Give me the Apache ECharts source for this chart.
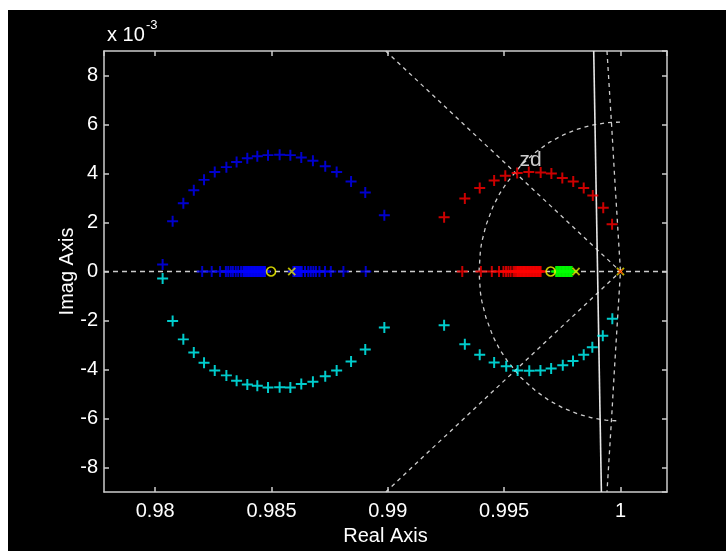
<!DOCTYPE html>
<html><head><meta charset="utf-8">
<script src="https://cdn.jsdelivr.net/npm/echarts@6/dist/echarts.min.js"></script>
<style>html,body{margin:0;padding:0;background:#fff;}#c{width:726px;height:551px;}</style>
</head><body><div id="c"></div>
<script>
// ---- data (imaginary parts in units of 1e-3) ----
const leftArcX = [0.98032,0.98075,0.98121,0.98166,0.98210,0.98256,0.98306,0.98350,0.98396,0.98439,0.98485,0.98535,0.98581,0.98628,0.98678,0.98731,0.98780,0.98842,0.98903,0.98985];
const blueUpperY = [0.29,2.05,2.79,3.32,3.74,4.06,4.26,4.47,4.62,4.70,4.75,4.77,4.75,4.65,4.52,4.30,4.06,3.67,3.22,2.30];
const cyanLowerLeftY = [-0.29,-2.02,-2.77,-3.31,-3.72,-4.04,-4.24,-4.46,-4.61,-4.66,-4.73,-4.72,-4.73,-4.59,-4.50,-4.28,-4.04,-3.67,-3.18,-2.29];
const blueRealX = [0.98202,0.98243,0.98279,0.98304,0.98314,0.98325,0.98334,0.98346,0.98357,0.98369,
  0.98379,0.98383,0.98388,0.98392,0.98397,0.98401,0.98405,0.98410,0.98414,0.98418,0.98423,0.98427,0.98431,0.98436,0.98440,0.98444,0.98449,0.98453,0.98457,0.98462,0.98466,0.98470,0.98472,
  0.98594,0.98598,0.98603,0.98607,0.98612,0.98616,0.98621,0.98625,0.98630,
  0.98644,0.98658,0.98669,0.98680,0.98691,0.98706,0.98730,0.98755,0.98809,0.98905];
const redArcX = [0.99242,0.99331,0.99395,0.99457,0.99505,0.99556,0.99606,0.99657,0.99703,0.99750,0.99797,0.99842,0.99881,0.99926,0.99964];
const redUpperY = [2.21,2.98,3.41,3.71,3.91,4.02,4.06,4.04,4.00,3.82,3.67,3.41,3.10,2.60,1.93];
const cyanRightX = [0.99242,0.99331,0.99395,0.99457,0.99509,0.99558,0.99608,0.99656,0.99702,0.99752,0.99796,0.99842,0.99879,0.99924,0.99965];
const cyanRightY = [-2.19,-2.97,-3.40,-3.71,-3.87,-4.04,-4.05,-4.04,-3.96,-3.83,-3.65,-3.40,-3.09,-2.62,-1.93];
const redRealX = [0.99320,0.99400,0.99447,0.99478,0.99497,0.99508,0.99518,0.99528,0.99540,0.99547,
  0.99554,0.99558,0.99562,0.99567,0.99571,0.99575,0.99580,0.99584,0.99588,0.99592,0.99597,0.99601,0.99605,0.99610,0.99614,0.99618,0.99623,0.99627,0.99631,0.99636,0.99640,0.99644,0.99649,0.99653,0.99657];
const greenRealX = [0.99723,0.99727,0.99731,0.99736,0.99740,0.99744,0.99749,0.99753,0.99757,0.99761,0.99766,0.99770,0.99774,0.99779,0.99783,0.99787,0.99791];
const zerosX = [0.98498, 0.99700];
const polesX = [0.98587, 0.99809, 1.0];
const redPoleX = [1.0];
// grid curves
const wnArcX = [0.99998,0.99937,0.99876,0.99816,0.99755,0.99694,0.99634,0.99573,0.99513,0.99482,0.99452,0.99422,0.99404,0.99398,0.99392,0.99398,0.99404,0.99422,0.99452,0.99482,0.99513,0.99573,0.99634,0.99694,0.99755,0.99816,0.99876,0.99937,0.99998];
const wnArcY = [6.10,6.07,5.97,5.81,5.58,5.27,4.86,4.34,3.64,3.20,2.65,1.89,1.21,0.86,0,-0.86,-1.21,-1.89,-2.65,-3.20,-3.64,-4.34,-4.86,-5.27,-5.58,-5.81,-5.97,-6.07,-6.10];
const zetaLineX = [0.98991, 1.0, 0.98991];
const zetaLineY = [9, 0, -9];
const nearVertX = [0.99942,0.99963,0.99974,1.0,0.99974,0.99963,0.99942];
const nearVertY = [9,5.8,4.0,0,-4.0,-5.8,-9];
const solidLineX = [0.99885, 0.99918];
const solidLineY = [9, -9];
const realAxisX = [0.9778, 1.002];
const realAxisY = [0, 0];
const xMin = 0.9778, xMax = 1.002, yMin = -9, yMax = 9;
const zdLabel = {x: 0.99568, y: 4.10, text: 'zd'};

const pair = (xs, ys) => xs.map((x, i) => [x, ys[i]]);
const onAxis = xs => xs.map(x => [x, 0]);
const PLUS = 'path://M0,4.1 H10 V5.9 H0 Z M4.1,0 H5.9 V10 H4.1 Z';
const FONT = 'Liberation Sans, Arial, sans-serif';
const GRIDC = '#cccccc';

function marks(data, color, size, rotate, symbol) {
  return {type:'scatter', data, symbol: symbol || PLUS, symbolSize: size || 11, symbolRotate: rotate || 0,
    itemStyle:{color}, silent:true, animation:false, z:5};
}
function gline(data, color, type, width) {
  return {type:'line', data, showSymbol:false, symbol:'none', smooth:false, silent:true, animation:false, z:2,
    lineStyle:{color, width: width || 1.3, type}};
}

const axisCommon = {
  type:'value',
  axisLine:{show:true, onZero:false, lineStyle:{color:GRIDC, width:1.5}},
  axisTick:{show:true, inside:true, length:5, lineStyle:{color:GRIDC, width:1.5}},
  splitLine:{show:false}
};

const chart = echarts.init(document.getElementById('c'), null, {renderer:'canvas'});
chart.setOption({
  backgroundColor:'#000',
  animation:false,
  grid:{left:104, top:51, width:563, height:444, containLabel:false},
  xAxis:[
    Object.assign({}, axisCommon, {min:xMin, max:xMax, splitNumber:5, position:'bottom',
      axisLabel:{color:'#fff', fontSize:20, fontFamily:FONT, margin:9, showMinLabel:false, showMaxLabel:false},
      name:'Real Axis', nameLocation:'middle', nameGap:34, nameMoveOverlap:false,
      nameTextStyle:{color:'#fff', fontSize:20, fontFamily:FONT}}),
    Object.assign({}, axisCommon, {min:xMin, max:xMax, splitNumber:5, position:'top', axisLabel:{show:false}})
  ],
  yAxis:[
    Object.assign({}, axisCommon, {min:yMin, max:yMax, splitNumber:9, position:'left',
      axisLabel:{color:'#fff', fontSize:20, fontFamily:FONT, margin:6, showMinLabel:false, showMaxLabel:false},
      name:'Imag Axis', nameLocation:'middle', nameGap:27, nameRotate:90, nameMoveOverlap:false,
      nameTextStyle:{color:'#fff', fontSize:20, fontFamily:FONT}}),
    Object.assign({}, axisCommon, {min:yMin, max:yMax, splitNumber:9, position:'right', axisLabel:{show:false}})
  ],
  graphic:[
    {type:'rect', shape:{x:0,y:0,width:726,height:10}, style:{fill:'#fff'}, silent:true},
    {type:'rect', shape:{x:0,y:0,width:8,height:551}, style:{fill:'#fff'}, silent:true},
    {type:'text', left:107, top:25, style:{text:'x 10', fill:'#fff', font:'20px ' + FONT}},
    {type:'text', left:146, top:19, style:{text:'-3', fill:'#fff', font:'13px ' + FONT}}
  ],
  series:[
    gline(pair(realAxisX, realAxisY), GRIDC, [5,4]),
    gline(pair(zetaLineX, zetaLineY), GRIDC, [4,4]),
    gline(pair(wnArcX, wnArcY), GRIDC, [4,4]),
    gline(pair(nearVertX, nearVertY), GRIDC, [4,4]),
    gline(pair(solidLineX, solidLineY), '#e6e6e6', 'solid', 1.6),
    marks(pair(leftArcX, blueUpperY), '#0000ff'),
    marks(pair(leftArcX, cyanLowerLeftY), '#00ffff'),
    marks(onAxis(blueRealX), '#0000ff'),
    marks(pair(redArcX, redUpperY), '#ff0000'),
    marks(pair(cyanRightX, cyanRightY), '#00ffff'),
    marks(onAxis(redRealX), '#ff0000'),
    marks(onAxis(greenRealX), '#00ff00'),
    {type:'scatter', data:onAxis(zerosX), symbol:'circle', symbolSize:9, silent:true, animation:false, z:6,
      itemStyle:{color:'rgba(0,0,0,0)', borderColor:'#ffff00', borderWidth:1.6}},
    marks(onAxis(polesX), '#e6e600', 10, 45),
    marks(onAxis(redPoleX), '#ff0000', 6, 45),
    {type:'scatter', data:[[zdLabel.x, zdLabel.y]], symbolSize:1, silent:true, animation:false, z:7,
      itemStyle:{color:'rgba(0,0,0,0)'},
      label:{show:true, formatter:zdLabel.text, position:[0,0], align:'left', verticalAlign:'bottom',
        color:'#fff', fontSize:21, fontFamily:FONT}}
  ]
});
</script></body></html>
